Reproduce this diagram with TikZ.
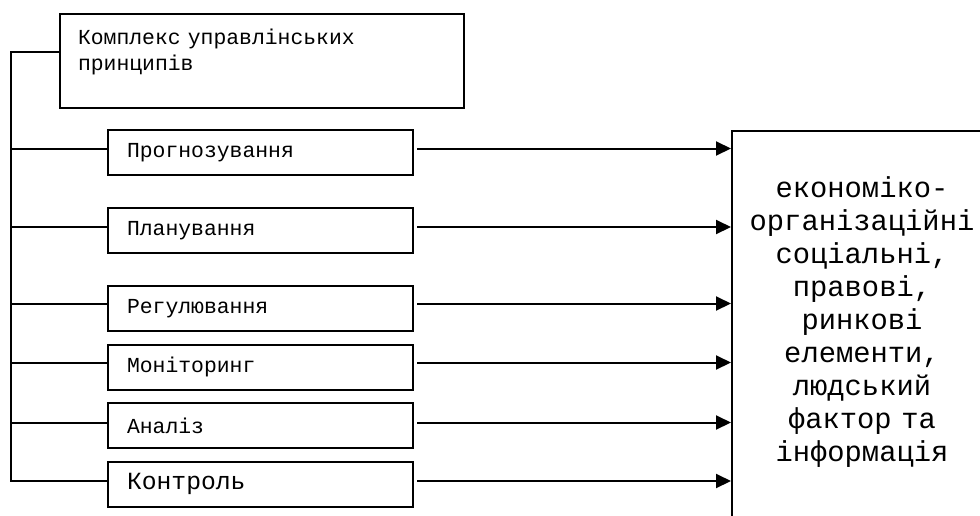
\documentclass[tikz,border=0pt]{standalone}
\usepackage{fontspec}
\setmonofont{Liberation Mono}
\usepackage{tikz}
\usetikzlibrary{positioning, arrows.meta}
\usepackage{xcolor}

\begin{document}
\begin{tikzpicture}[
        x=1pt, y=-1pt,
        line width=2pt,
        block/.style={
            rectangle,
            draw,
            minimum width=305pt,
            minimum height=45pt,
            inner xsep=19pt,
            text width=267pt,
            align=left,
            font=\ttfamily\fontsize{21.4}{25}\selectfont
        },
        topblock/.style={
            rectangle,
            draw,
            anchor=north west,
            inner xsep=18pt,
            inner ysep=0pt,
            text width=368pt,
            align=left,
            text height=30pt,
            text depth=64pt,
            font=\ttfamily\fontsize{21.4}{26}\selectfont
        },
        result/.style={
            rectangle,
            draw,
            anchor=north west,
            inner xsep=0pt,
            inner ysep=0pt,
            text width=260pt,
            align=center,
            text height=66pt,
            text depth=340pt,
            font=\ttfamily\fontsize{28.8}{33}\selectfont
        },
        link/.style={
            line cap=rect
        },
        arrow/.style={
            -{Triangle[length=15pt,width=14pt]},
            shorten <=3pt
        }
    ]

        \useasboundingbox (0,0) rectangle (980,515);
        \clip (0,0) rectangle (980,515);

        \coordinate (bus) at (11,0);

        \node[topblock] (principles) at (59,13) {Комплекс управлінських\\принципів};
        \node[block, anchor=north west] (forecast) at (107,129) {Прогнозування};
        \node[block, below=31pt of forecast] (planning) {Планування};
        \node[block, below=31pt of planning] (regulation) {Регулювання};
        \node[block, below=11.5pt of regulation] (monitoring) {Моніторинг};
        \node[block, below=11.5pt of monitoring] (analysis) {Аналіз};
        \node[block, below=11.5pt of analysis, font=\ttfamily\fontsize{24.7}{29}\selectfont] (control) {Контроль};
        \node[result] (factors) at (731,130) {економіко-\\організаційні\\соціальні,\\правові,\\ринкові\\елементи,\\людський\\фактор та\\інформація};

        \draw[link] ([yshift=9pt]principles.west) -| ([yshift=3pt]control.west -| bus) -- ([yshift=3pt]control.west);
        \draw[link] ([yshift=4pt]forecast.west) -- ([yshift=4pt]forecast.west -| bus);
        \draw[link] ([yshift=3.5pt]planning.west) -- ([yshift=3.5pt]planning.west -| bus);
        \draw[link] ([yshift=5pt]regulation.west) -- ([yshift=5pt]regulation.west -| bus);
        \draw[link] ([yshift=4.5pt]monitoring.west) -- ([yshift=4.5pt]monitoring.west -| bus);
        \draw[link] ([yshift=3pt]analysis.west) -- ([yshift=3pt]analysis.west -| bus);

        \draw[arrow] ([yshift=4pt]forecast.east) -- ([yshift=4pt]forecast.east -| factors.west);
        \draw[arrow] ([yshift=3.5pt]planning.east) -- ([yshift=3.5pt]planning.east -| factors.west);
        \draw[arrow] ([yshift=5pt]regulation.east) -- ([yshift=5pt]regulation.east -| factors.west);
        \draw[arrow] ([yshift=4.5pt]monitoring.east) -- ([yshift=4.5pt]monitoring.east -| factors.west);
        \draw[arrow] ([yshift=3pt]analysis.east) -- ([yshift=3pt]analysis.east -| factors.west);
        \draw[arrow] ([yshift=3pt]control.east) -- ([yshift=3pt]control.east -| factors.west);

    \end{tikzpicture}
\end{document}
